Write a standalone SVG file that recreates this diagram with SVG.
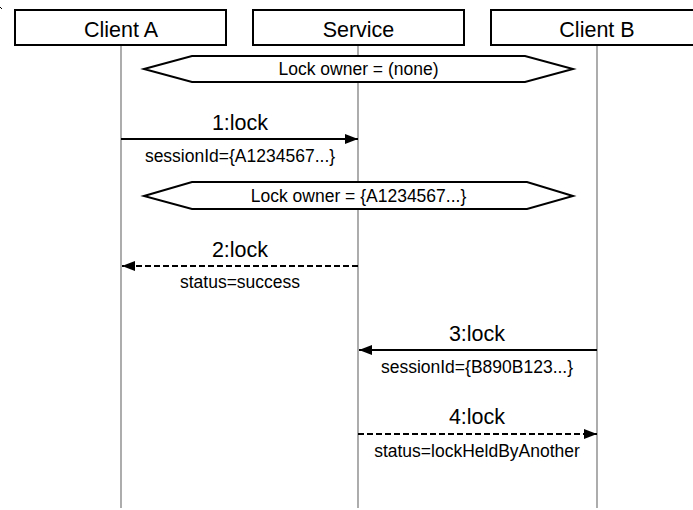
<svg xmlns="http://www.w3.org/2000/svg" width="693" height="510" viewBox="0 0 693 510">
<style>
.box{fill:#fff;stroke:#000;stroke-width:2}
.life{stroke:#808080;stroke-width:1.3;fill:none}
.big{font-family:"Liberation Sans",Arial,sans-serif;font-size:21.5px;fill:#000;text-anchor:middle}
.small{font-family:"Liberation Sans",Arial,sans-serif;font-size:17.5px;fill:#000;text-anchor:middle}
.msg{stroke:#000;stroke-width:2;fill:none}
.dash{stroke-dasharray:6,3}
.hex{fill:#fff;stroke:#000;stroke-width:2}
</style>
<defs>
<marker id="ah" markerWidth="13" markerHeight="10" refX="13" refY="5" orient="auto" markerUnits="userSpaceOnUse">
<path d="M0,0 L13,5 L0,10 Z" fill="#000"/>
</marker>
</defs>
<rect width="693" height="510" fill="#fff"/>
<path d="M0,7 L2,9" stroke="#000" stroke-width="1"/>
<g id="lifelines">
<line class="life" x1="121" y1="45" x2="121" y2="508"/>
<line class="life" x1="358" y1="45" x2="358" y2="508"/>
<line class="life" x1="597" y1="45" x2="597" y2="508"/>
</g>
<g id="clientA">
<rect class="box" x="15" y="10" width="211" height="35"/>
<text class="big" x="121" y="37">Client A</text>
</g>
<g id="service">
<rect class="box" x="253" y="10" width="211" height="35"/>
<text class="big" x="358.5" y="37">Service</text>
</g>
<g id="clientB">
<rect class="box" x="491" y="10" width="211" height="35"/>
<text class="big" x="597" y="37">Client B</text>
</g>
<g id="state1">
<polygon class="hex" points="144,69 192,56 525,56 573,69 525,82 192,82"/>
<text class="small" x="358.5" y="75">Lock owner = (none)</text>
</g>
<g id="state2">
<polygon class="hex" points="144,196 192,182 527,182 573,196 527,209 192,209"/>
<text class="small" x="358.5" y="202">Lock owner = {A1234567...}</text>
</g>
<g id="connectors">
<line class="msg" x1="121" y1="139" x2="358" y2="139" marker-end="url(#ah)"/>
<line class="msg dash" x1="358" y1="266" x2="122" y2="266" marker-end="url(#ah)"/>
<line class="msg" x1="597" y1="350" x2="359" y2="350" marker-end="url(#ah)"/>
<line class="msg dash" x1="358" y1="434" x2="597" y2="434" marker-end="url(#ah)"/>
</g>
<g id="labels">
<text class="big" x="240" y="130">1:lock</text>
<text class="small" x="240" y="162">sessionId={A1234567...}</text>
<text class="big" x="240" y="257">2:lock</text>
<text class="small" x="240" y="288">status=success</text>
<text class="big" x="477" y="341">3:lock</text>
<text class="small" x="477" y="373">sessionId={B890B123...}</text>
<text class="big" x="477" y="424">4:lock</text>
<text class="small" x="477" y="457">status=lockHeldByAnother</text>
</g>
</svg>
